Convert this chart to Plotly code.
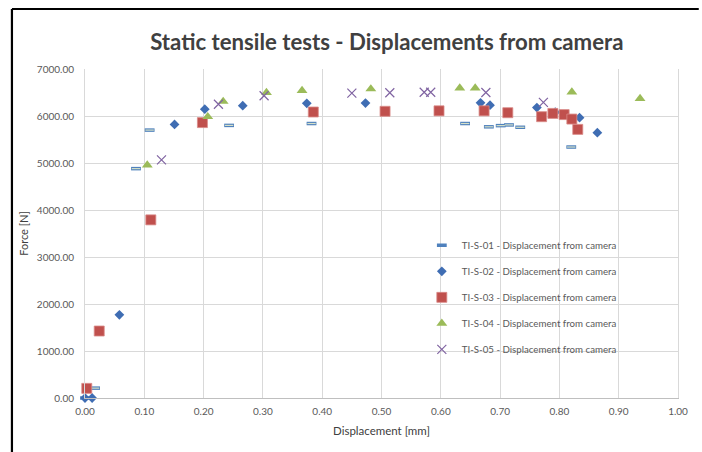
import plotly.graph_objects as go

# ---- data (displacement [mm], force [N]) ----
s1_x = [0.000, 0.017, 0.086, 0.109, 0.243, 0.382, 0.641, 0.681, 0.701, 0.715, 0.734, 0.820]
s1_y = [0, 210, 4880, 5700, 5800, 5840, 5840, 5770, 5795, 5810, 5760, 5340]

s2_x = [0.000, 0.012, 0.058, 0.151, 0.202, 0.266, 0.374, 0.473, 0.667, 0.683, 0.762, 0.793, 0.834, 0.864]
s2_y = [0, 0, 1770, 5820, 6145, 6220, 6270, 6275, 6280, 6230, 6180, 6080, 5965, 5645]

s3_x = [0.003, 0.024, 0.111, 0.198, 0.385, 0.506, 0.597, 0.673, 0.713, 0.770, 0.789, 0.808, 0.821, 0.831]
s3_y = [205, 1425, 3790, 5860, 6085, 6100, 6110, 6110, 6070, 5985, 6055, 6030, 5935, 5715]

s4_x = [0.105, 0.207, 0.233, 0.306, 0.366, 0.482, 0.632, 0.658, 0.821, 0.936]
s4_y = [4955, 5985, 6310, 6500, 6540, 6575, 6595, 6595, 6510, 6370]

s5_x = [0.129, 0.225, 0.302, 0.450, 0.514, 0.572, 0.583, 0.676, 0.773]
s5_y = [5065, 6250, 6430, 6485, 6495, 6505, 6505, 6500, 6290]

names = ["TI-S-01 - Displacement from camera",
         "TI-S-02 - Displacement from camera",
         "TI-S-03 - Displacement from camera",
         "TI-S-04 - Displacement from camera",
         "TI-S-05 - Displacement from camera"]

x_ticks = [0.0, 0.1, 0.2, 0.3, 0.4, 0.5, 0.6, 0.7, 0.8, 0.9, 1.0]
y_ticks = [0, 1000, 2000, 3000, 4000, 5000, 6000, 7000]

BLUE = "#4F81BD"
DBLUE = "#3F6DB3"
RED = "#C0504D"
GREEN = "#9BBB59"
PURPLE = "#8064A2"
FONT = "Lato"
GREY = "#595959"

fig = go.Figure()

fig.add_trace(go.Scatter(x=s1_x, y=s1_y, mode="markers", name=names[0],
                         legendgroup="g1", cliponaxis=False,
                         marker=dict(symbol="line-ew", size=7,
                                     line=dict(color=BLUE, width=3.5))))
fig.add_trace(go.Scatter(x=s1_x, y=s1_y, mode="markers", showlegend=False,
                         legendgroup="g1", cliponaxis=False, hoverinfo="skip",
                         marker=dict(symbol="line-ew", size=6,
                                     line=dict(color="#D5E0C8", width=1.2))))
fig.add_trace(go.Scatter(x=s2_x, y=s2_y, mode="markers", name=names[1],
                         legendgroup="g2", cliponaxis=False,
                         marker=dict(symbol="diamond", size=7.5, color=DBLUE,
                                     line=dict(width=0))))
fig.add_trace(go.Scatter(x=s3_x, y=s3_y, mode="markers", name=names[2],
                         legendgroup="g3", cliponaxis=False,
                         marker=dict(symbol="square", size=10, color=RED,
                                     line=dict(color="#D98A88", width=0.8))))
fig.add_trace(go.Scatter(x=s4_x, y=s4_y, mode="markers", name=names[3],
                         legendgroup="g4", cliponaxis=False,
                         marker=dict(symbol="triangle-up", size=9.5, color=GREEN,
                                     line=dict(width=0))))
fig.add_trace(go.Scatter(x=s5_x, y=s5_y, mode="markers", name=names[4],
                         legendgroup="g5", cliponaxis=False,
                         marker=dict(symbol="x-thin-open", size=9, color=PURPLE,
                                     line=dict(color=PURPLE, width=1.2))))

frame = dict(color="black", width=2.2)
fig.update_layout(
    width=702, height=452,
    margin=dict(l=85, r=24, t=69, b=54),
    paper_bgcolor="white", plot_bgcolor="white",
    font=dict(family=FONT, color=GREY, size=10),
    title=dict(text="<b>Static tensile tests - Displacements from camera</b>",
               x=0.551, xanchor="center", xref="container",
               y=1 - 42 / 452, yanchor="middle", yref="container",
               font=dict(family=FONT, size=22.2, color="#404040")),
    legend=dict(x=0.568, xanchor="left", y=0.508, yanchor="top",
                bgcolor="rgba(0,0,0,0)", font=dict(size=9.7, color=GREY),
                tracegroupgap=7, traceorder="grouped", itemwidth=30),
    showlegend=True,
    shapes=[
        dict(type="line", xref="paper", yref="paper",
             x0=-0.1232, x1=-0.1232, y0=-0.2, y1=1.1824, line=frame),
        dict(type="line", xref="paper", yref="paper",
             x0=-0.1232, x1=1.035, y0=1.1824, y1=1.1824, line=frame),
    ],
)

fig.update_xaxes(range=[0, 1], tickvals=x_ticks, tickformat=".2f",
                 showgrid=True, gridcolor="#D9D9D9", gridwidth=1,
                 showline=True, linecolor="#BFBFBF", linewidth=1,
                 zeroline=False, ticks="", ticklabelstandoff=4,
                 tickfont=dict(size=10, color=GREY),
                 title=dict(text="Displacement [mm]", standoff=10,
                            font=dict(size=11.5, color="#404040")))
fig.update_yaxes(range=[0, 7000], tickvals=y_ticks, tickformat=".2f",
                 showgrid=True, gridcolor="#D9D9D9", gridwidth=1,
                 showline=True, mirror=True, linecolor="#D9D9D9", linewidth=1,
                 zeroline=False, ticks="", ticklabelstandoff=8,
                 tickfont=dict(size=10, color=GREY),
                 title=dict(text="Force [N]", standoff=5,
                            font=dict(size=11, color="#404040")))

fig.write_html("out.html")
